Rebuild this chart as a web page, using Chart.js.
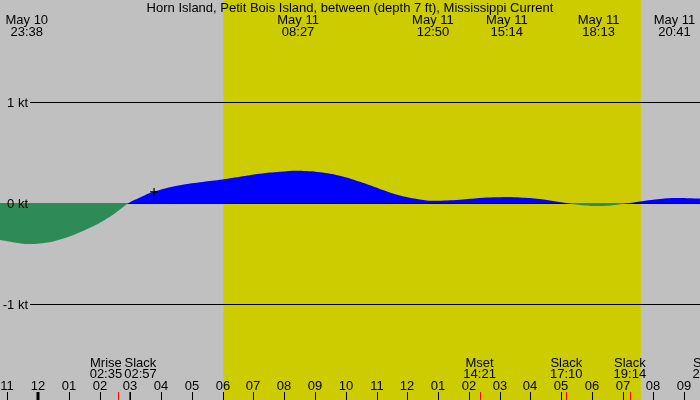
<!DOCTYPE html>
<html>
<head>
<meta charset="utf-8">
<script src="https://cdn.jsdelivr.net/npm/chart.js@4/dist/chart.umd.min.js"></script>
<style>
  body { margin: 0; background: #c0c0c0; }
  #wrap { width: 700px; height: 400px; }
</style>
</head>
<body>
<div id="wrap"><canvas id="tideChart"></canvas></div>
<script>
// =======================
// Current data (hours since May 10 00:00, knots)
// =======================

const times = [
  22.76, 23.09, 23.58, 24.06, 24.55, 25.04, 25.53, 26.01, 26.50, 26.95,
  27.31, 27.64, 27.96, 28.61, 29.26, 29.91, 30.56, 31.21, 31.86, 32.45,
  33.16, 33.81, 34.46, 35.11, 35.76, 36.41, 36.83, 37.71, 38.36, 39.23,
  39.66, 40.31, 41.17, 41.61, 42.22, 42.75, 43.23, 44.05, 44.68, 45.51
];

const knots = [
  -0.366, -0.383, -0.405, -0.40, -0.376, -0.33, -0.267, -0.195, -0.10, 0,
  0.055, 0.10, 0.13, 0.175, 0.205, 0.23, 0.26, 0.29, 0.31, 0.32,
  0.305, 0.27, 0.21, 0.14, 0.075, 0.036, 0.023, 0.033, 0.05, 0.06,
  0.055, 0.04, 0, -0.02, -0.03, -0.02, 0, 0.035, 0.05, 0.045
];

// max / min events along the top
const topTimes = [23.633, 32.45, 36.833, 39.233, 42.217, 44.683];
const topDates = ['May 10', 'May 11', 'May 11', 'May 11', 'May 11', 'May 11'];
const topClock = ['23:38', '08:27', '12:50', '15:14', '18:13', '20:41'];

// slack / moon events along the bottom
const bottomTimes = [26.583, 26.95, 38.35, 41.167, 43.233, 45.80];
const bottomNames = ['Mrise', 'Slack', 'Mset', 'Slack', 'Slack', 'Slack'];
const bottomClock = ['02:35', '02:57', '14:21', '17:10', '19:14', '21:48'];

// grid levels
const levels = [1, 0, -1];
const levelLabels = ['1 kt', '0 kt', '-1 kt'];

// daylight
const sunrise = 30.02;
const sunset = 43.59;

// current time marker
const nowTime = [27.77];
const nowKnots = [0.11];

const FONT = '13px "Liberation Sans", Arial, sans-serif';

function hourLabel(h) {
  const v = h % 12 === 0 ? 12 : h % 12;
  return String(v).padStart(2, '0');
}

const tidePlugin = {
  id: 'tidePlugin',

  beforeDatasetsDraw(chart) {
    const { ctx, scales: { x, y }, chartArea } = chart;
    ctx.save();

    // daylight band
    ctx.fillStyle = '#cccc00';
    const x0 = x.getPixelForValue(sunrise);
    const x1 = x.getPixelForValue(sunset);
    ctx.fillRect(x0, chartArea.top, x1 - x0, chartArea.bottom - chartArea.top);

    // knot lines
    ctx.strokeStyle = '#000';
    ctx.lineWidth = 1;
    levels.forEach(v => {
      const py = Math.floor(y.getPixelForValue(v)) + 0.5;
      ctx.beginPath();
      ctx.moveTo(30, py);
      ctx.lineTo(chartArea.right, py);
      ctx.stroke();
    });

    ctx.restore();
  },

  afterDraw(chart) {
    const { ctx, scales: { x, y }, width } = chart;
    ctx.save();
    ctx.font = FONT;
    ctx.fillStyle = '#000';

    // title
    ctx.textAlign = 'center';
    ctx.textBaseline = 'alphabetic';
    ctx.fillText(
      'Horn Island, Petit Bois Island, between (depth 7 ft), Mississippi Current',
      width / 2, 12
    );

    // top event labels
    topTimes.forEach((t, i) => {
      const px = x.getPixelForValue(t);
      ctx.fillText(topDates[i], px, 24);
      ctx.fillText(topClock[i], px, 36);
    });

    // level labels
    ctx.textAlign = 'right';
    ctx.textBaseline = 'middle';
    levels.forEach((v, i) => {
      ctx.fillText(levelLabels[i], 28, y.getPixelForValue(v) + 1);
    });

    // bottom event labels, pushed apart when they collide
    const centers = bottomTimes.map(t => x.getPixelForValue(t));
    const widths = bottomNames.map((n, i) =>
      Math.max(ctx.measureText(n).width, ctx.measureText(bottomClock[i]).width));
    for (let i = 1; i < centers.length; i++) {
      const need = (widths[i - 1] + widths[i]) / 2 + 2;
      const gap = centers[i] - centers[i - 1];
      if (gap < need) {
        const shift = (need - gap) / 2;
        centers[i - 1] -= shift;
        centers[i] += shift;
      }
    }
    ctx.textAlign = 'center';
    ctx.textBaseline = 'alphabetic';
    centers.forEach((cx, i) => {
      ctx.fillText(bottomNames[i], cx, 367);
      ctx.fillText(bottomClock[i], cx, 378);
    });

    // event ticks (red)
    ctx.strokeStyle = '#ff0000';
    ctx.lineWidth = 1;
    bottomTimes.forEach(t => {
      const px = Math.round(x.getPixelForValue(t)) + 0.5;
      ctx.beginPath();
      ctx.moveTo(px, 392);
      ctx.lineTo(px, 400);
      ctx.stroke();
    });

    // hour ticks and labels
    ctx.strokeStyle = '#000';
    for (let h = Math.ceil(x.min); h <= Math.floor(x.max); h++) {
      const px = Math.round(x.getPixelForValue(h));
      const midnight = h % 24 === 0;
      ctx.lineWidth = midnight ? 3 : 1;
      ctx.beginPath();
      ctx.moveTo(px + (midnight ? 0 : 0.5), 392);
      ctx.lineTo(px + (midnight ? 0 : 0.5), 400);
      ctx.stroke();
      ctx.fillText(hourLabel(h), px, 390);
    }

    ctx.restore();
  }
};

new Chart(document.getElementById('tideChart'), {
  type: 'line',
  data: {
    datasets: [
      {
        type: 'scatter',
        data: nowTime.map((t, i) => ({ x: t, y: nowKnots[i] })),
        pointStyle: 'cross',
        pointRadius: 4,
        borderColor: '#000',
        borderWidth: 1.2,
        backgroundColor: '#000'
      },
      {
        data: times.map((t, i) => ({ x: t, y: knots[i] })),
        borderWidth: 0,
        borderColor: 'rgba(0,0,0,0)',
        pointRadius: 0,
        tension: 0.4,
        fill: {
          target: 'origin',
          above: '#0000ff',
          below: '#2e8b57'
        }
      }
    ]
  },
  options: {
    responsive: true,
    maintainAspectRatio: false,
    animation: false,
    layout: { padding: 0, autoPadding: false },
    plugins: {
      legend: { display: false },
      tooltip: { enabled: false }
    },
    scales: {
      x: { type: 'linear', min: 22.763, max: 45.512, display: false },
      y: { min: -1.95, max: 2.01, display: false }
    }
  },
  plugins: [tidePlugin]
});
</script>
</body>
</html>
